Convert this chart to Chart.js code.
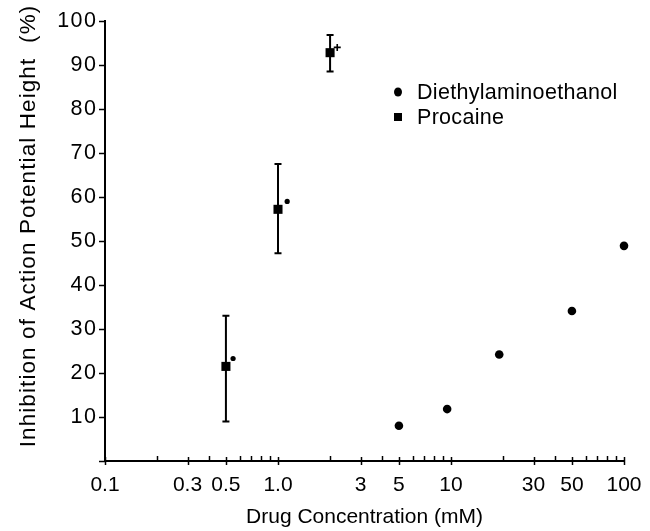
<!DOCTYPE html>
<html>
<head>
<meta charset="utf-8">
<script src="https://cdn.jsdelivr.net/npm/chart.js@4/dist/chart.umd.min.js"></script>
<style>
  html, body { margin: 0; padding: 0; background: #fff; }
  #wrap { width: 650px; height: 531px; position: relative; }
</style>
</head>
<body>
<div id="wrap"><canvas id="c" width="650" height="531"></canvas></div>
<script>
// ---- data ----
const deaeConc = [5, 9.5, 19, 50, 100];
const deaeInhib = [8.0, 11.8, 24.2, 34.1, 48.9];

const procaineConc = [0.5, 1.0, 2.0];
const procaineInhib = [21.5, 57.2, 92.8];
const procaineLow = [9.0, 47.2, 88.5];
const procaineHigh = [33.0, 67.5, 96.8];

const markConc = [0.55, 1.13, 2.2];
const markInhib = [23.3, 59.0, 94.0];
const markStyle = ['circle', 'circle', 'cross'];

const xTickValues = [0.1,0.2,0.3,0.4,0.5,0.6,0.7,0.8,0.9,1,2,3,4,5,6,7,8,9,10,20,30,40,50,60,70,80,90,100];
const xMajorValues = [0.1, 0.3, 0.5, 1, 3, 5, 10, 30, 50, 100];
const xMajorLabels = ['0.1', '0.3', '0.5', '1.0', '3', '5', '10', '30', '50', '100'];
const yTickValues = [0,10,20,30,40,50,60,70,80,90,100];

const seriesNames = ['Diethylaminoethanol', 'Procaine'];
const xTitle = 'Drug Concentration (mM)';
const yTitle = 'Inhibition of Action Potential Height  (%)';

// ---- helpers ----
const FONT = '"Liberation Sans", Arial, Helvetica, sans-serif';
const INK = '#000';
const toXY = (xs, ys) => xs.map((x, i) => ({x: x, y: ys[i]}));

const errorBars = {
  id: 'errorBars',
  afterDatasetsDraw(chart) {
    const {ctx, scales: {x, y}} = chart;
    ctx.save();
    ctx.strokeStyle = INK;
    ctx.lineWidth = 2;
    procaineConc.forEach((c, i) => {
      const px = x.getPixelForValue(c);
      const lo = y.getPixelForValue(procaineLow[i]);
      const hi = y.getPixelForValue(procaineHigh[i]);
      ctx.beginPath();
      ctx.moveTo(px, lo); ctx.lineTo(px, hi);
      ctx.moveTo(px - 3.5, lo); ctx.lineTo(px + 3.5, lo);
      ctx.moveTo(px - 3.5, hi); ctx.lineTo(px + 3.5, hi);
      ctx.stroke();
    });
    ctx.restore();
  }
};

const axisTicks = {
  id: 'axisTicks',
  afterDraw(chart) {
    const {ctx, scales: {x, y}, chartArea} = chart;
    ctx.save();
    ctx.strokeStyle = INK;
    ctx.lineWidth = 1.5;
    const by = chartArea.bottom;
    xTickValues.forEach(v => {
      const px = Math.round(x.getPixelForValue(v)) + 0.5;
      ctx.beginPath();
      if (xMajorValues.includes(v)) { ctx.moveTo(px, by - 4); ctx.lineTo(px, by + 4); }
      else { ctx.moveTo(px, by - 5); ctx.lineTo(px, by); }
      ctx.stroke();
    });
    const lx = chartArea.left;
    yTickValues.forEach(v => {
      const py = Math.round(y.getPixelForValue(v)) + 0.5;
      ctx.beginPath();
      ctx.moveTo(lx - 6, py); ctx.lineTo(lx, py);
      ctx.stroke();
    });
    ctx.restore();
  }
};

// widen the letter spacing of the y-axis title and y tick labels, as in the scan
const spacedText = {
  id: 'spacedText',
  afterLayout(chart) {
    const ys = chart.scales.y;
    if (ys._spacedPatched) return;
    ys._spacedPatched = true;
    const origTitle = ys.drawTitle;
    ys.drawTitle = function () {
      const ctx = this.ctx;
      ctx.save();
      ctx.letterSpacing = '1.1px';
      ctx.translate(0, -15);
      origTitle.call(this);
      ctx.restore();
    };
    const origLabels = ys.drawLabels;
    ys.drawLabels = function (area) {
      const ctx = this.ctx;
      ctx.save();
      ctx.letterSpacing = '1.5px';
      ctx.translate(1.5, 0);
      origLabels.call(this, area);
      ctx.restore();
    };
  }
};

const insideLegend = {
  id: 'insideLegend',
  afterDraw(chart) {
    const {ctx} = chart;
    const mx = 398, tx = 417, y0 = 92, dy = 25;
    ctx.save();
    ctx.fillStyle = INK;
    ctx.font = '21.5px ' + FONT;
    ctx.letterSpacing = '0.3px';
    ctx.textBaseline = 'middle';
    ctx.textAlign = 'left';
    [0, 1].forEach(i => {
      const ds = chart.data.datasets[i];
      const yy = y0 + i * dy;
      ctx.beginPath();
      if (ds.pointStyle === 'rect') {
        ctx.rect(mx - 4, yy - 4, 8, 8);
      } else {
        ctx.ellipse(mx, yy, 4, 4.5, 0, 0, Math.PI * 2);
      }
      ctx.fill();
      ctx.fillText(ds.label, tx, yy + 1);
    });
    ctx.restore();
  }
};

Chart.defaults.font.family = FONT;
Chart.defaults.color = INK;

new Chart(document.getElementById('c'), {
  type: 'scatter',
  data: {
    datasets: [
      {
        label: seriesNames[0],
        data: toXY(deaeConc, deaeInhib),
        pointStyle: 'circle',
        pointRadius: 4.3,
        backgroundColor: INK,
        borderColor: INK,
        borderWidth: 0,
        clip: false
      },
      {
        label: seriesNames[1],
        data: toXY(procaineConc, procaineInhib),
        pointStyle: 'rect',
        pointRadius: 6.4,
        backgroundColor: INK,
        borderColor: INK,
        borderWidth: 0,
        clip: false
      },
      {
        label: '',
        data: toXY(markConc, markInhib),
        pointStyle: markStyle,
        pointRadius: [2.6, 2.6, 3.5],
        backgroundColor: INK,
        borderColor: INK,
        borderWidth: [0, 0, 1.6],
        clip: false
      }
    ]
  },
  options: {
    responsive: false,
    animation: false,
    events: [],
    layout: { padding: { top: 21, right: 26, bottom: 0, left: 0 } },
    plugins: {
      legend: { display: false },
      tooltip: { enabled: false }
    },
    scales: {
      x: {
        type: 'logarithmic',
        min: 0.1,
        max: 100,
        afterBuildTicks(scale) {
          scale.ticks = xMajorValues.map(v => ({value: v}));
        },
        afterFit(scale) {
          scale.height = 70;
          scale.paddingLeft = 0;
          scale.paddingRight = 0;
        },
        ticks: {
          autoSkip: false,
          maxRotation: 0,
          padding: 12,
          font: { size: 21 },
          color: INK,
          callback(value) {
            const i = xMajorValues.indexOf(value);
            return i >= 0 ? xMajorLabels[i] : '';
          }
        },
        grid: { display: true, drawOnChartArea: false, drawTicks: false },
        border: { display: true, color: INK, width: 2 },
        title: {
          display: true,
          text: xTitle,
          font: { size: 21 },
          color: INK,
          padding: { top: 0, bottom: 1 }
        }
      },
      y: {
        type: 'linear',
        min: 0,
        max: 100,
        afterBuildTicks(scale) {
          scale.ticks = yTickValues.map(v => ({value: v}));
        },
        afterFit(scale) {
          scale.width = 105;
          scale.paddingTop = 0;
          scale.paddingBottom = 0;
        },
        ticks: {
          padding: 9,
          font: { size: 21.5 },
          color: INK,
          callback(value) { return value === 0 ? '' : String(value); }
        },
        grid: { display: true, drawOnChartArea: false, drawTicks: false },
        border: { display: true, color: INK, width: 2 },
        title: {
          display: true,
          text: yTitle,
          font: { size: 22.5 },
          color: INK,
          padding: { top: 15, bottom: 0 }
        }
      }
    }
  },
  plugins: [spacedText, errorBars, axisTicks, insideLegend]
});
</script>
</body>
</html>
